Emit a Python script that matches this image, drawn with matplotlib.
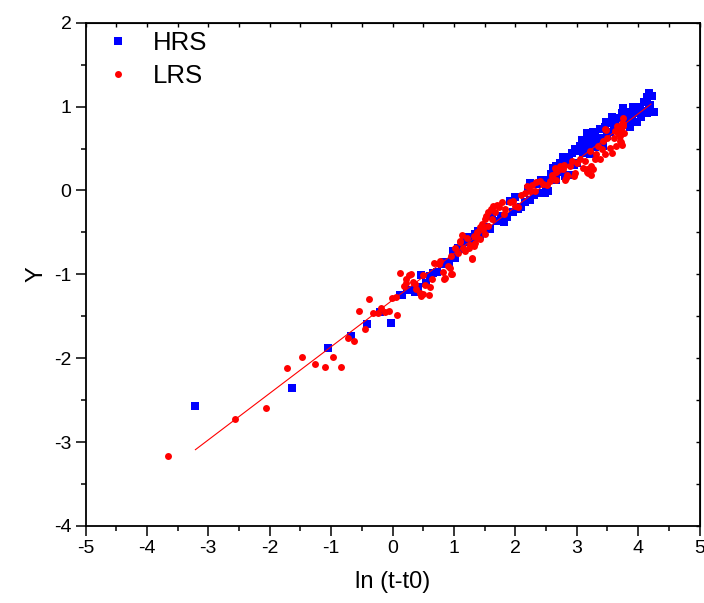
import matplotlib
matplotlib.use("Agg")
import matplotlib.pyplot as plt
from matplotlib.ticker import MultipleLocator

plt.rcParams['font.family'] = ['Liberation Sans', 'DejaVu Sans']
plt.rcParams['axes.unicode_minus'] = False

hrs_x = [-3.22, -1.63, -1.05, -0.68, -0.41, -0.20, -0.03, 0.12, 0.24, 0.15, 0.28, 0.37, 0.47, 0.61,
         0.66, 0.80, 0.86, 1.02, 0.99, 1.07, 1.21, 1.26, 1.34, 1.40, 1.18, 1.32, 1.43, 1.53, 1.62,
         1.70, 1.81, 1.86, 1.91, 1.97, 2.05, 2.16, 2.24, 2.24, 2.35, 2.37, 2.48, 2.54, 2.55, 2.61,
         2.67, 2.73, 2.84, 2.87, 2.62, 2.84, 2.92, 2.97, 3.05, 3.14, 3.22, 3.30, 3.38, 3.46, 3.54,
         3.65, 3.73, 3.81, 3.90, 3.95, 4.03, 4.09, 4.14, 4.17, 4.23, 4.14, 4.26, 3.98, 3.87, 3.79,
         3.00, 3.22, 3.43, 2.81, 2.67, 3.16, 3.60, 3.10, 3.30, 3.50, 3.70, 4.05, 4.20, 2.95, 3.35,
         3.55, 3.90, 4.10,
         2.50, 2.58, 2.70, 2.78, 2.88, 3.00, 3.08, 3.18, 3.26, 3.40, 3.48, 3.58, 3.62, 3.75, 3.85,
         3.92, 4.00, 4.12, 4.18, 2.42, 2.30, 2.10, 1.76, 1.58, 1.12, 0.92, 0.72, 0.55, 0.42, 2.00, 2.20]
hrs_y = [-2.57, -2.36, -1.88, -1.73, -1.59, -1.45, -1.58, -1.25, -1.19, -1.25, -1.19, -1.21, -1.01, -1.02,
         -0.98, -0.88, -0.85, -0.81, -0.72, -0.68, -0.62, -0.56, -0.52, -0.48, -0.55, -0.58, -0.54, -0.44, -0.30,
         -0.36, -0.38, -0.32, -0.12, -0.26, -0.22, -0.14, -0.11, 0.09, 0.08, -0.03, -0.03, -0.01, 0.13, 0.25,
         0.29, 0.33, 0.33, 0.19, 0.27, 0.37, 0.45, 0.49, 0.53, 0.59, 0.61, 0.65, 0.73, 0.76, 0.81,
         0.86, 0.92, 0.94, 0.90, 0.96, 1.00, 1.06, 1.12, 1.16, 1.13, 0.92, 0.94, 0.82, 0.76, 0.84,
         0.33, 0.43, 0.53, 0.17, 0.13, 0.69, 0.73, 0.45, 0.52, 0.65, 0.75, 0.88, 1.02, 0.30, 0.60,
         0.70, 0.82, 0.95,
         0.05, 0.20, 0.22, 0.40, 0.40, 0.47, 0.60, 0.52, 0.70, 0.62, 0.82, 0.88, 0.78, 0.98, 0.86,
         1.00, 0.92, 1.05, 0.98, 0.12, -0.06, -0.20, -0.30, -0.46, -0.70, -0.86, -0.97, -1.10, -1.15, -0.08, 0.02]

lrs_x = [-3.66, -2.57, -2.06, -1.72, -1.47, -1.27, -1.10, -0.97, -0.84, -0.72, -0.63, -0.54, -0.38, -0.45,
         -0.31, -0.24, -0.18, -0.12, -0.06, 0.08, -0.01, 0.05, 0.18, 0.22,
         0.12, 0.22, 0.27, 0.30, 0.33, 0.37, 0.39, 0.44, 0.46, 0.50, 0.53, 0.61, 0.60, 0.64, 0.68, 0.77,
         0.82, 0.84, 0.96, 0.94, 0.90, 0.75, 1.06, 1.10, 1.13, 1.18, 1.24, 1.29, 1.32, 1.37, 1.02, 0.96,
         1.10, 1.21, 1.32, 1.26, 1.37, 1.42, 1.46, 1.50, 1.53, 1.56, 1.60, 1.64, 1.70, 1.74, 1.78, 1.67,
         1.62, 1.56, 1.48, 1.51, 1.43, 1.34, 1.81, 1.84, 1.91, 1.96, 1.99, 2.05, 2.10, 2.16, 2.24, 2.19,
         2.27, 2.34, 2.40, 2.45, 2.52, 2.57, 2.59, 2.66, 2.73, 2.79, 2.84, 2.32, 1.15,
         2.59, 2.64, 2.73, 2.78, 2.84, 2.89, 2.92, 2.97, 3.00, 3.05, 3.11, 3.14, 3.19, 3.21, 3.24, 3.30,
         3.32, 3.35, 3.41, 3.43, 3.46, 3.49, 3.54, 3.57, 3.60, 3.62, 3.65, 3.68, 3.70, 3.72, 3.73, 3.76,
         3.75, 3.77, 3.71, 3.64, 2.67, 2.81, 2.95, 3.16, 3.27, 3.38, 3.46, 3.47, 3.72, 2.82, 3.23, 3.16,
         0.97, 0.86, 0.50, 1.29, 3.76, 3.73]
lrs_y = [-3.16, -2.73, -2.59, -2.12, -1.99, -2.07, -2.11, -1.99, -2.10, -1.76, -1.80, -1.44, -1.29, -1.65,
         -1.46, -1.46, -1.40, -1.45, -1.44, -1.48, -1.28, -1.27, -1.14, -1.10,
         -0.98, -1.05, -1.01, -0.99, -1.09, -1.12, -1.17, -1.22, -1.26, -1.23, -1.13, -1.15, -1.25, -1.06, -0.86, -0.84,
         -0.97, -1.05, -1.00, -0.92, -0.90, -0.88, -0.74, -0.62, -0.53, -0.72, -0.68, -0.81, -0.66, -0.56, -0.68, -0.78,
         -0.60, -0.57, -0.54, -0.65, -0.50, -0.44, -0.40, -0.34, -0.30, -0.26, -0.22, -0.19, -0.17, -0.20, -0.14, -0.26,
         -0.34, -0.42, -0.46, -0.52, -0.58, -0.63, -0.28, -0.22, -0.14, -0.13, -0.19, -0.20, -0.05, -0.03, -0.01, 0.05,
         0.07, 0.10, 0.11, 0.08, 0.06, 0.11, 0.19, 0.22, 0.27, 0.30, 0.17, -0.01, -0.68,
         0.17, 0.27, 0.29, 0.25, 0.19, 0.29, 0.35, 0.21, 0.33, 0.37, 0.27, 0.35, 0.21, 0.47, 0.29, 0.37,
         0.43, 0.53, 0.49, 0.59, 0.73, 0.63, 0.51, 0.45, 0.63, 0.71, 0.77, 0.69, 0.59, 0.73, 0.81, 0.86,
         0.77, 0.69, 0.65, 0.53, 0.13, 0.13, 0.17, 0.25, 0.25, 0.37, 0.43, 0.72, 0.58, 0.15, 0.19, 0.22,
         -1.00, -1.04, -1.01, -0.82, 0.79, 0.54]

fit_x = [-3.21, 4.21]
fit_y = [-3.09, 1.03]

x_ticks = [-5, -4, -3, -2, -1, 0, 1, 2, 3, 4, 5]
y_ticks = [-4, -3, -2, -1, 0, 1, 2]

fig = plt.figure(figsize=(7.04, 6.03), dpi=100)
ax = fig.add_axes([85.5 / 704, 1 - 526 / 603, (699.5 - 85.5) / 704, (526 - 22.7) / 603])

ax.plot(hrs_x, hrs_y, 's', color='#0000ff', markersize=6.0, markeredgewidth=0, label='HRS', zorder=3)
ax.plot(lrs_x, lrs_y, 'o', color='#ff0000', markersize=5.0, markeredgewidth=0, label='LRS', zorder=4)
ax.plot(fit_x, fit_y, '-', color='#ff0000', linewidth=0.8, zorder=5)

ax.set_xlim(-5, 5)
ax.set_ylim(-4, 2)
ax.set_xticks(x_ticks)
ax.set_yticks(y_ticks)
ax.xaxis.set_minor_locator(MultipleLocator(0.5))
ax.yaxis.set_minor_locator(MultipleLocator(0.5))
ax.tick_params(which='major', direction='out', length=7, width=1.1, labelsize=14, pad=3)
ax.tick_params(which='minor', direction='out', length=3.5, width=1.1)
for s in ax.spines.values():
    s.set_linewidth(1.3)

sx = ax.secondary_xaxis('top')
sx.set_xticks(x_ticks)
sx.xaxis.set_minor_locator(MultipleLocator(0.5))
sx.tick_params(which='both', direction='in', length=3, width=1.0, labeltop=False)
sx.set_xticklabels([])
sy = ax.secondary_yaxis('right')
sy.set_yticks(y_ticks)
sy.yaxis.set_minor_locator(MultipleLocator(0.5))
sy.tick_params(which='both', direction='in', length=3, width=1.0, labelright=False)
sy.set_yticklabels([])

ax.set_xlabel('ln (t-t0)', fontsize=17, labelpad=10)
ax.set_ylabel('Y', fontsize=17, labelpad=5)

leg = ax.legend(loc='upper left', bbox_to_anchor=(0.024, 1.003), frameon=False, fontsize=18.5,
                handlelength=0.6, handletextpad=1.05, borderaxespad=0.0, labelspacing=0.32,
                markerscale=1.0)

fig.savefig('out.png', dpi=100)
